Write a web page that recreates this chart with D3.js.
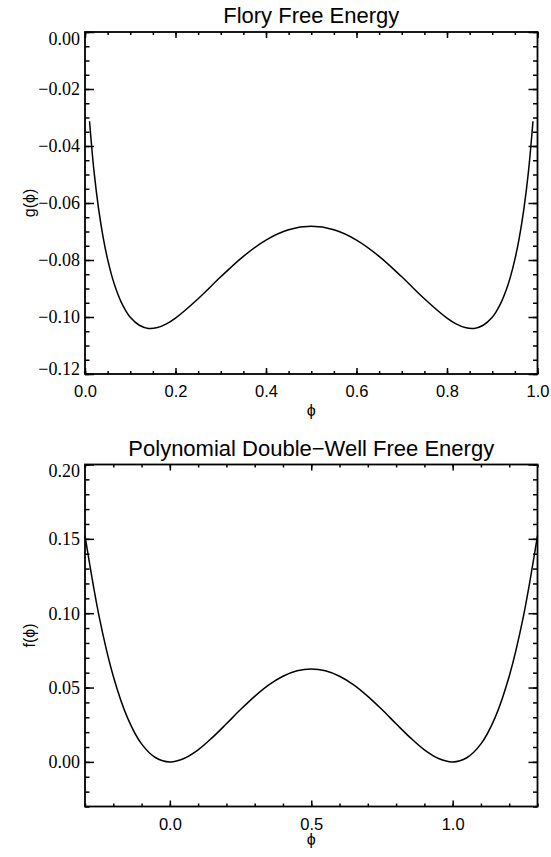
<!DOCTYPE html>
<html>
<head>
<meta charset="utf-8">
<script src="https://cdn.jsdelivr.net/npm/d3@7"></script>
<style>
  body { margin: 0; background: #fff; }
  svg { display: block; }
</style>
</head>
<body>
<svg id="chart" width="551" height="857"></svg>
<script>
/* Data */
var floryPhi = [0.01, 0.02, 0.03, 0.04, 0.05, 0.06, 0.07, 0.08, 0.09, 0.10, 0.12, 0.14, 0.16, 0.18, 0.20,
  0.25, 0.30, 0.35, 0.40, 0.45, 0.50, 0.55, 0.60, 0.65, 0.70, 0.75, 0.80, 0.82, 0.84, 0.86, 0.88,
  0.90, 0.91, 0.92, 0.93, 0.94, 0.95, 0.96, 0.97, 0.98, 0.99];
var floryG = [-0.0313, -0.0490, -0.0620, -0.0720, -0.0798, -0.0860, -0.0909, -0.0948, -0.0978, -0.1001,
  -0.1029, -0.1040, -0.1037, -0.1024, -0.1004, -0.0936, -0.0859, -0.0787, -0.0730, -0.0694, -0.0682,
  -0.0694, -0.0730, -0.0787, -0.0859, -0.0936, -0.1004, -0.1024, -0.1037, -0.1040, -0.1029, -0.1001,
  -0.0978, -0.0948, -0.0909, -0.0860, -0.0798, -0.0720, -0.0620, -0.0490, -0.0313];

var polyPhi = [-0.30, -0.25, -0.20, -0.15, -0.10, -0.05, 0.00, 0.05, 0.10, 0.15, 0.20, 0.25, 0.30, 0.35,
  0.40, 0.45, 0.50, 0.55, 0.60, 0.65, 0.70, 0.75, 0.80, 0.85, 0.90, 0.95, 1.00, 1.05, 1.10, 1.15,
  1.20, 1.25, 1.30];
var polyF = [0.1521, 0.0977, 0.0576, 0.0298, 0.0121, 0.0028, 0.0000, 0.0023, 0.0081, 0.0163, 0.0256,
  0.0352, 0.0441, 0.0518, 0.0576, 0.0613, 0.0625, 0.0613, 0.0576, 0.0518, 0.0441, 0.0352, 0.0256,
  0.0163, 0.0081, 0.0023, 0.0000, 0.0028, 0.0121, 0.0298, 0.0576, 0.0977, 0.1521];

/* Tick labels */
var floryXTicks = [0.0, 0.2, 0.4, 0.6, 0.8, 1.0];
var floryYTicks = [-0.12, -0.10, -0.08, -0.06, -0.04, -0.02, 0.00];
var polyXTicks = [0.0, 0.5, 1.0];
var polyYTicks = [0.00, 0.05, 0.10, 0.15, 0.20];

var svg = d3.select('#chart');

var left = 85, right = 537.5, panelH = 342;

function drawPanel(opt) {
  var top = opt.top, bottom = top + panelH;
  var g = svg.append('g');

  var x = d3.scaleLinear().domain(opt.xDomain).range([left, right]);
  var y = d3.scaleLinear().domain(opt.yDomain).range([bottom, top]);

  var xMinor = d3.range(opt.xDomain[0], opt.xDomain[1] + 1e-9, opt.xMinorStep);
  var yMinor = d3.range(opt.yMinorStart, opt.yDomain[1] + 1e-9, opt.yMinorStep);

  /* x axes: bottom with labels, top without */
  g.append('g').attr('class', 'ax').attr('transform', 'translate(0,' + bottom + ')')
    .call(d3.axisBottom(x).tickValues(xMinor).tickSize(-3).tickFormat(''));
  var xb = g.append('g').attr('class', 'ax').attr('transform', 'translate(0,' + bottom + ')')
    .call(d3.axisBottom(x).tickValues(opt.xTicks).tickSize(-6).tickPadding(11.5)
      .tickFormat(d3.format('.1f')));
  xb.selectAll('text').style('font-family', '"Liberation Sans", Arial, sans-serif')
    .style('font-size', '16.5px');
  g.append('g').attr('class', 'ax').attr('transform', 'translate(0,' + top + ')')
    .call(d3.axisTop(x).tickValues(xMinor).tickSize(-3).tickFormat(''));
  g.append('g').attr('class', 'ax').attr('transform', 'translate(0,' + top + ')')
    .call(d3.axisTop(x).tickValues(opt.xTicks).tickSize(-6).tickFormat(''));

  /* y axes: left with labels, right without */
  g.append('g').attr('class', 'ax').attr('transform', 'translate(' + left + ',0)')
    .call(d3.axisLeft(y).tickValues(yMinor).tickSize(-4.5).tickFormat(''));
  var yl = g.append('g').attr('class', 'ax').attr('transform', 'translate(' + left + ',0)')
    .call(d3.axisLeft(y).tickValues(opt.yTicks).tickSize(-9).tickPadding(5)
      .tickFormat(d3.format('.2f')));
  yl.selectAll('text').style('font-family', '"Liberation Serif", "Times New Roman", serif')
    .style('font-size', '18px')
    .attr('dy', function (d) {
      if (Math.abs(d - opt.yDomain[1]) < 1e-9) return '0.68em';
      if (Math.abs(d - opt.yDomain[0]) < 1e-9) return '0em';
      return '0.33em';
    });
  g.append('g').attr('class', 'ax').attr('transform', 'translate(' + right + ',0)')
    .call(d3.axisRight(y).tickValues(yMinor).tickSize(-4.5).tickFormat(''));
  g.append('g').attr('class', 'ax').attr('transform', 'translate(' + right + ',0)')
    .call(d3.axisRight(y).tickValues(opt.yTicks).tickSize(-9).tickFormat(''));

  g.selectAll('.ax .domain').remove();
  g.selectAll('.ax line').attr('stroke', '#000').attr('stroke-width', 1.5);
  g.selectAll('.ax text').attr('fill', '#000');

  /* frame */
  g.append('rect')
    .attr('x', left).attr('y', top)
    .attr('width', right - left).attr('height', panelH)
    .attr('fill', 'none').attr('stroke', '#000').attr('stroke-width', 1.8);

  /* curve */
  var pts = opt.xs.map(function (v, i) { return [v, opt.ys[i]]; });
  var line = d3.line()
    .x(function (d) { return x(d[0]); })
    .y(function (d) { return y(d[1]); })
    .curve(d3.curveCatmullRom.alpha(0.5));
  g.append('path').datum(pts)
    .attr('d', line)
    .attr('fill', 'none').attr('stroke', '#000').attr('stroke-width', 1.5);

  /* texts */
  g.append('text')
    .attr('x', (left + right) / 2).attr('y', top - 9)
    .attr('text-anchor', 'middle')
    .style('font-family', '"Liberation Sans", Arial, sans-serif')
    .style('font-size', '22px')
    .text(opt.title);
  g.append('text')
    .attr('x', (left + right) / 2).attr('y', bottom + opt.xLabelOffset)
    .attr('text-anchor', 'middle')
    .style('font-family', '"Liberation Sans", Arial, sans-serif')
    .style('font-size', '16px')
    .text('ϕ');
  g.append('text')
    .attr('transform', 'translate(35,' + (top + panelH / 2) + ') rotate(-90)')
    .attr('text-anchor', 'middle')
    .style('font-family', '"Liberation Sans", Arial, sans-serif')
    .style('font-size', '16px')
    .text(opt.yLabel);
}

drawPanel({
  top: 32,
  xDomain: [0, 1], yDomain: [-0.12, 0.0],
  xMinorStep: 0.05, yMinorStart: -0.12, yMinorStep: 0.005,
  xTicks: floryXTicks, yTicks: floryYTicks,
  xs: floryPhi, ys: floryG,
  title: 'Flory Free Energy', yLabel: 'g(ϕ)', xLabelOffset: 42
});

drawPanel({
  top: 464.5,
  xDomain: [-0.3, 1.3], yDomain: [-0.03, 0.20],
  xMinorStep: 0.1, yMinorStart: -0.03, yMinorStep: 0.01,
  xTicks: polyXTicks, yTicks: polyYTicks,
  xs: polyPhi, ys: polyF,
  title: 'Polynomial Double−Well Free Energy', yLabel: 'f(ϕ)', xLabelOffset: 38.5
});
</script>
</body>
</html>
